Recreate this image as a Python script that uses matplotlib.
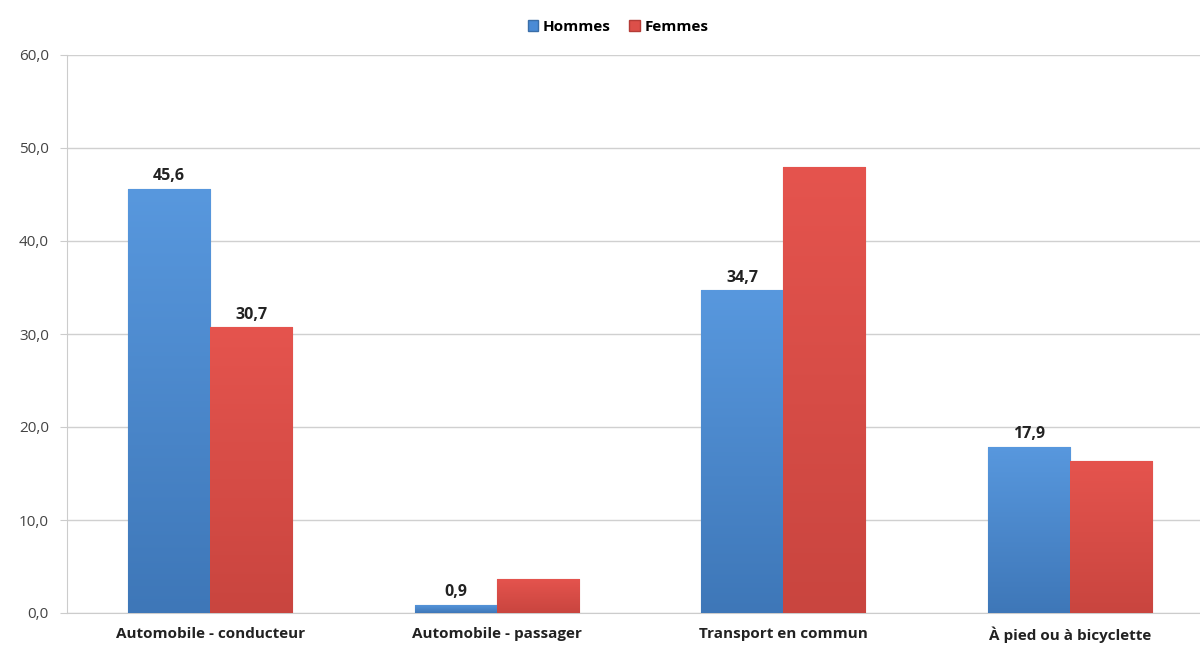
import matplotlib
matplotlib.use("Agg")
import matplotlib.pyplot as plt
import numpy as np
from matplotlib.colors import LinearSegmentedColormap
from matplotlib.patches import Patch

categories = ["Automobile - conducteur", "Automobile - passager", "Transport en commun", "À pied ou à bicyclette"]
hommes = [45.6, 0.9, 34.7, 17.9]
femmes = [30.7, 3.7, 48.0, 16.3]
hommes_labels = ["45,6", "0,9", "34,7", "17,9"]
femmes_labels = ["30,7", "", "", ""]
yticks = [0, 10, 20, 30, 40, 50, 60]
ytick_labels = ["0,0", "10,0", "20,0", "30,0", "40,0", "50,0", "60,0"]

plt.rcParams['font.family'] = ['Open Sans', 'DejaVu Sans']

fig = plt.figure(figsize=(12, 6.56), dpi=100)
ax = fig.add_axes([67/1200, 1 - 613/656, (1200-67)/1200, (613-55)/656])

x = np.arange(len(categories))
w = 0.287
bh = ax.bar(x - w/2, hommes, w, color="#4a8bd6", edgecolor="#3a6ea8", linewidth=0.8, zorder=3, label="Hommes")
bf = ax.bar(x + w/2, femmes, w, color="#dc4f49", edgecolor="#b43c37", linewidth=0.8, zorder=3, label="Femmes")

def gradient(bars, top, bottom):
    cmap = LinearSegmentedColormap.from_list("g", [bottom, top])
    grad = np.linspace(0, 1, 256).reshape(-1, 1)
    for b in bars:
        x0, y0 = b.get_x(), b.get_y()
        im = ax.imshow(grad, extent=[x0, x0 + b.get_width(), y0, y0 + b.get_height()],
                       origin="lower", aspect="auto", cmap=cmap, zorder=3.5)
        im.set_clip_path(b)

gradient(bh, "#5898de", "#3e77b8")
gradient(bf, "#e5544e", "#c9453f")

for bars, labels in ((bh, hommes_labels), (bf, femmes_labels)):
    for b, lab in zip(bars, labels):
        if lab:
            ax.text(b.get_x() + b.get_width()/2, b.get_height() + 0.5, lab, ha="center", va="bottom",
                    fontsize=11.5, fontweight="bold", color="#222222", zorder=5)

ax.set_xlim(-0.5, -0.5 + (1200-67)/286.5)
ax.set_ylim(0, 60)
ax.set_yticks(yticks)
ax.set_yticklabels(ytick_labels, fontsize=11, color="#444444")
ax.set_xticks(x)
ax.set_xticklabels(categories, fontsize=11, fontweight="bold", color="#222222")
ax.tick_params(axis="x", length=0, pad=10)
ax.tick_params(axis="y", length=5, color="#cccccc", pad=8)
ax.yaxis.grid(True, color="#d0d0d0", linewidth=1, zorder=0)
for s in ["top", "right"]:
    ax.spines[s].set_visible(False)
ax.spines["left"].set_color("#cccccc")
ax.spines["bottom"].set_color("#cccccc")

handles = [Patch(facecolor="#4a8bd6", edgecolor="#3a6ea8"), Patch(facecolor="#dc4f49", edgecolor="#b43c37")]
fig.legend(handles, ["Hommes", "Femmes"], loc="center", bbox_to_anchor=(0.515, 1 - 27/656), ncol=2,
           frameon=False, handlelength=0.7, handleheight=0.7, handletextpad=0.3, columnspacing=1.2,
           prop={"weight": "bold", "size": 11})

fig.savefig("out.png", dpi=100)
